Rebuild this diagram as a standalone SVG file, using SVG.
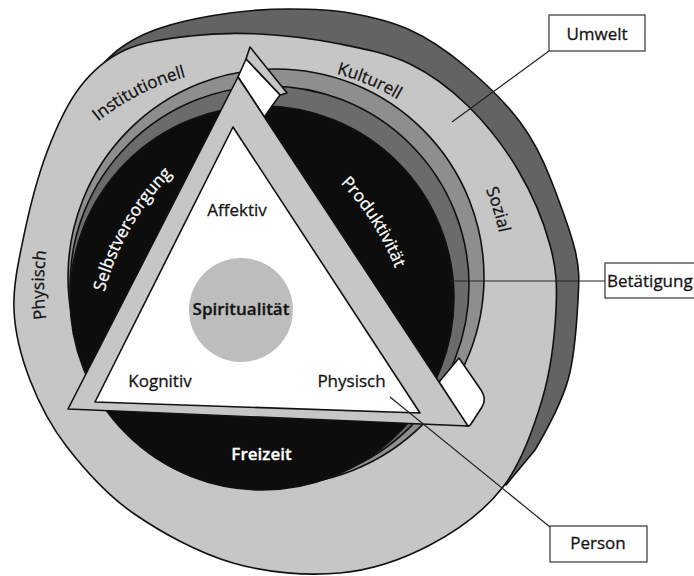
<svg xmlns="http://www.w3.org/2000/svg" width="694" height="576" viewBox="0 0 694 576">
<style>
.out{stroke:#111;stroke-width:1.6;stroke-linejoin:round}
.t{font-family:"Open Sans","Noto Sans","DejaVu Sans",sans-serif;font-size:17px;fill:#141414;stroke:#141414;stroke-width:0.3}
.w{fill:#fff;stroke:#fff}
.b{font-weight:600}
.box{fill:#fff;stroke:#333;stroke-width:1.2}
.lead{stroke:#222;stroke-width:1.2;fill:none}
</style>
<defs>
<path id="pInst" d="M79,138.5 A240,240 0 0 1 211,71.5"/>
<path id="pKult" d="M299.5,67.1 A240,240 0 0 1 428.5,121.1"/>
<path id="pSoz" d="M462.9,147.3 A240,240 0 0 1 504.3,280.9"/>
<path id="pPhys" d="M54.4,355 A240,240 0 0 1 54.4,215"/>
<path id="pSelb" d="M101.6,304.2 A260,260 0 0 1 181.2,165.4"/>
<path id="pProd" d="M333.6,176.3 A260,260 0 0 1 398.6,277.3"/>
</defs>
<rect width="694" height="576" fill="#fff"/>

<g id="umwelt">
<path class="out" fill="#636363" d="M74,112 L82,90 C90,79 106,58 122,47 C137,36 151.3,30.3 170,25 C188.7,19.7 210,15.7 230,13 C250,10.3 270,9 290,9 C310,9 330,9.5 350,13 C370,16.5 390.8,21.2 410,30 C429.2,38.8 446.7,50.7 465,66 C483.3,81.3 505.8,103 520,122 C534.2,141 542.8,158.7 551,180 C559.2,201.3 570.3,230 575,250 C579.7,270 579.2,278.3 578,300 C576.8,321.7 575.2,355 568,380 C560.8,405 545.3,432.5 535,450 L506,485 L420,420 L200,200 Z"/>
<path class="out" fill="#c6c6c6" d="M14,310 C13,285.8 18.5,261.3 24,235 C29.5,208.7 37.7,176.7 47,152 C56.3,127.3 67,104 80,87 C93,70 106.7,58.5 125,50 C143.3,41.5 167.5,38.7 190,36 C212.5,33.3 235,32.7 260,34 C285,35.3 315,39 340,44 C365,49 388.7,53.7 410,64 C431.3,74.3 450,88.3 468,106 C486,123.7 504.3,146.8 518,170 C531.7,193.2 543.7,221.7 550,245 C556.3,268.3 557.3,284.2 556,310 C554.7,335.8 550.8,370.5 542,400 C533.2,429.5 521.7,462.8 503,487 C484.3,511.2 457.2,530.7 430,545 C402.8,559.3 372.8,570 340,573 C307.2,576 267.5,573 233,563 C198.5,553 160.7,532.3 133,513 C105.3,493.7 84.2,469.2 67,447 C49.8,424.8 38.8,402.8 30,380 C21.2,357.2 15,334.2 14,310 Z"/>
<text class="t"><textPath href="#pInst" startOffset="50%" text-anchor="middle">Institutionell</textPath></text>
<text class="t"><textPath href="#pKult" startOffset="50%" text-anchor="middle">Kulturell</textPath></text>
<text class="t"><textPath href="#pSoz" startOffset="50%" text-anchor="middle">Sozial</textPath></text>
<text class="t"><textPath href="#pPhys" startOffset="50%" text-anchor="middle">Physisch</textPath></text>
</g>

<g id="betaetigung">
<circle class="out" cx="276" cy="277" r="208" fill="#8e8e8e"/>
<circle class="out" cx="269.5" cy="285.6" r="199.5" fill="#6b6b6b"/>
<circle class="out" cx="262" cy="298" r="192" fill="#0d0d0d"/>
<text class="t w"><textPath href="#pSelb" startOffset="50%" text-anchor="middle">Selbstversorgung</textPath></text>
<text class="t w"><textPath href="#pProd" startOffset="50%" text-anchor="middle">Produktivität</textPath></text>
<text class="t w b" x="261.5" y="460" text-anchor="middle">Freizeit</text>
</g>

<g id="person">
<path class="out" fill="#c6c6c6" d="M250,47 L287,93 L280,95 L246,59 Z"/>
<path class="out" fill="#fff" d="M246,59 L280,95 L272,106 L264.4,117 L238,77 Z"/>
<path class="out" fill="#fff" d="M439,382 L459,358 L481,390 Q487,399 482,407 L471,424 Q469,427 467,426 Z"/>
<path class="out" fill="#c6c6c6" stroke-width="2" d="M238,77 L68,409 L468,426 Z"/>
<path class="out" fill="#fff" d="M233,127 L95,402 L420,413 Z"/>
<circle cx="241" cy="310" r="52" fill="#bdbdbd"/>
<text class="t" x="237" y="216" text-anchor="middle">Affektiv</text>
<text class="t b" x="241" y="315" text-anchor="middle" font-size="16">Spiritualität</text>
<text class="t" x="160" y="387" text-anchor="middle">Kognitiv</text>
<text class="t" x="351.5" y="387" text-anchor="middle">Physisch</text>
</g>

<g id="connectors">
<line class="lead" x1="549" y1="51" x2="452" y2="122"/>
<line class="lead" x1="450" y1="281" x2="605" y2="281"/>
<line class="lead" x1="550" y1="527" x2="390" y2="397"/>
</g>

<g id="label-umwelt">
<rect class="box" x="549" y="15" width="96" height="36"/>
<text class="t" x="597" y="40" text-anchor="middle">Umwelt</text>
</g>
<g id="label-betaetigung">
<rect class="box" x="605" y="263" width="100" height="35"/>
<text class="t" x="607" y="287">Betätigung</text>
</g>
<g id="label-person">
<rect class="box" x="550" y="526" width="97" height="36"/>
<text class="t" x="598" y="549" text-anchor="middle">Person</text>
</g>
</svg>
